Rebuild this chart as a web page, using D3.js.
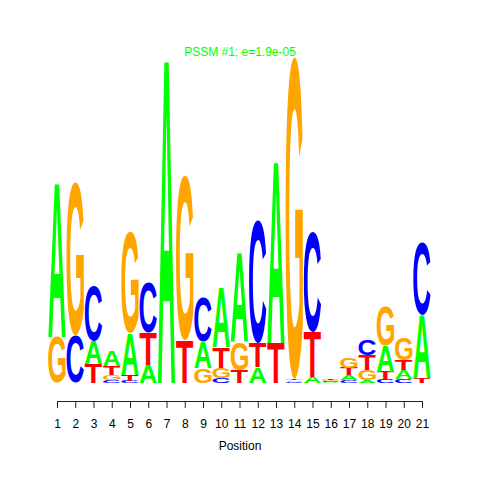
<!DOCTYPE html>
<html>
<head>
<meta charset="utf-8">
<script src="https://cdn.jsdelivr.net/npm/d3@7"></script>
<style>
  html, body { margin: 0; padding: 0; background: #fff; }
  svg { display: block; }
</style>
</head>
<body>
<svg id="chart" width="480" height="480"></svg>
<script>
// Positions along the motif
const positions = d3.range(1, 22);
// Information content (bits) for each base at each position
const bitsA = [0.945, 0.000, 0.141, 0.092, 0.258, 0.110, 2.000, 0.000, 0.160, 0.368, 0.546, 0.098, 1.123, 0.010, 0.037, 0.006, 0.031, 0.018, 0.160, 0.055, 0.387];
const bitsC = [0.000, 0.294, 0.337, 0.018, 0.012, 0.307, 0.000, 0.000, 0.276, 0.031, 0.000, 0.755, 0.000, 0.006, 0.613, 0.006, 0.018, 0.098, 0.025, 0.025, 0.442];
const bitsG = [0.282, 0.939, 0.000, 0.031, 0.626, 0.000, 0.000, 1.012, 0.092, 0.061, 0.172, 0.000, 0.000, 1.975, 0.000, 0.006, 0.061, 0.061, 0.245, 0.135, 0.000];
const bitsT = [0.000, 0.000, 0.117, 0.055, 0.037, 0.196, 0.000, 0.264, 0.000, 0.129, 0.080, 0.147, 0.245, 0.010, 0.276, 0.006, 0.043, 0.092, 0.043, 0.060, 0.031];
const bases = ["A", "C", "G", "T"];
const baseColors = ["#00FF00", "#0000FF", "#FFA500", "#FF0000"];
const xTickLabels = positions.map(String);
const titleText = "PSSM #1; e=1.9e-05";
const xLabel = "Position";

const series = { A: bitsA, C: bitsC, G: bitsG, T: bitsT };
const color = d3.scaleOrdinal().domain(bases).range(baseColors);

const svg = d3.select("#chart");
const x = d3.scaleLinear().domain([1, 21]).range([57, 422]);
const y = d3.scaleLinear().domain([0, 2]).range([383, 57]);
const colW = x(2) - x(1);
const letterW = colW * 0.95;

const FONT = "bold 100px 'Liberation Sans', Arial, sans-serif";
const ctx = document.createElement("canvas").getContext("2d");
ctx.font = FONT;
const metrics = {};
bases.forEach(b => {
  const m = ctx.measureText(b);
  metrics[b] = {
    L: m.actualBoundingBoxLeft, R: m.actualBoundingBoxRight,
    asc: m.actualBoundingBoxAscent, desc: m.actualBoundingBoxDescent
  };
});

// build stacks
const stacks = positions.map((p, i) => {
  const items = bases.map((b, k) => ({ base: b, v: series[b][i], k }))
    .filter(d => d.v > 0)
    .sort((a, b) => a.v - b.v || a.k - b.k);
  let cum = 0;
  items.forEach(d => { d.y0 = cum; cum += d.v; d.y1 = cum; d.pos = p; });
  return items;
});

const letters = svg.append("g").selectAll("text")
  .data(stacks.flat())
  .join("text")
  .text(d => d.base)
  .attr("fill", d => color(d.base))
  .style("font", FONT)
  .attr("transform", d => {
    const m = metrics[d.base];
    const w = m.L + m.R, h = m.asc + m.desc;
    const X = x(d.pos) - letterW / 2;
    const Y = y(d.y1);
    const H = y(d.y0) - y(d.y1);
    return `translate(${X},${Y}) scale(${letterW / w},${H / h}) translate(${m.L},${m.asc})`;
  });

// axis
const axis = d3.axisBottom(x)
  .tickValues(positions)
  .tickFormat((d, i) => xTickLabels[i])
  .tickSize(7)
  .tickSizeOuter(0)
  .tickPadding(11);
const ax = svg.append("g").attr("transform", "translate(0,401)").call(axis);
ax.selectAll("path, line").attr("stroke", "#222");
ax.selectAll("text").style("font", "12px 'Liberation Sans', Arial, sans-serif").attr("fill", "#000");

svg.append("text")
  .attr("x", 240).attr("y", 450)
  .attr("text-anchor", "middle")
  .style("font", "12px 'Liberation Sans', Arial, sans-serif")
  .text(xLabel);

svg.append("text")
  .attr("x", 240).attr("y", 56)
  .attr("text-anchor", "middle")
  .style("font", "12px 'Liberation Sans', Arial, sans-serif")
  .attr("fill", "#00FF00")
  .text(titleText);
</script>
</body>
</html>
